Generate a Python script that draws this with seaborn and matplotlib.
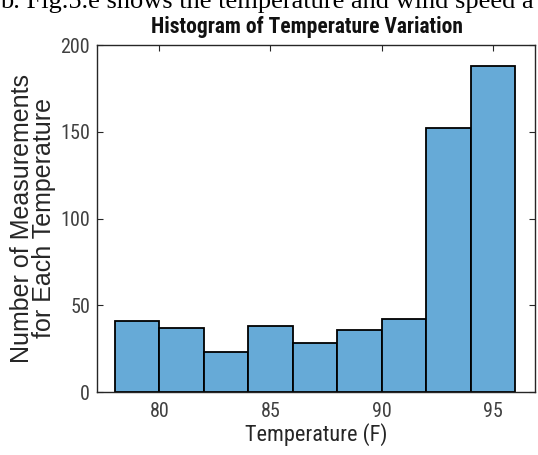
import os
import matplotlib
matplotlib.use("Agg")
import matplotlib.pyplot as plt
from matplotlib import font_manager as fm
from matplotlib.font_manager import FontProperties
import seaborn as sns
import numpy as np
import pandas as pd

# Data
bin_centers = [79, 81, 83, 85, 87, 89, 91, 93, 95]
counts = [41, 37, 23, 38, 28, 36, 42, 152, 188]
bin_edges = [78, 80, 82, 84, 86, 88, 90, 92, 94, 96]
xticks = [80, 85, 90, 95]
yticks = [0, 50, 100, 150, 200]
title = "Histogram of Temperature Variation"
xlabel = "Temperature (F)"
ylabel = "Number of Measurements\nfor Each Temperature"
caption = "b. Fig.5.e shows the temperature and wind speed a"

sns.set_theme(style="white")
plt.rcParams['font.family'] = ['Liberation Sans', 'DejaVu Sans']

names = {f.name for f in fm.fontManager.ttflist}
files = [f.fname for f in fm.fontManager.ttflist]


def find_font(cand_names, cand_files, weight="normal"):
    for n in cand_names:
        if n in names:
            return FontProperties(family=n, weight=weight), True
    for fn in cand_files:
        for f in files:
            if os.path.basename(f).lower() == fn.lower():
                return FontProperties(fname=f), True
    return FontProperties(family=['Liberation Sans', 'DejaVu Sans'], weight=weight), False


fp_reg, cond_reg = find_font(['Liberation Sans Narrow', 'Roboto Condensed', 'Open Sans Condensed'],
                             ['LiberationSansNarrow-Regular.ttf', 'DejaVuSansCondensed.ttf'])
fp_bold, cond_bold = find_font(['Liberation Sans Narrow', 'Roboto Condensed', 'Open Sans Condensed'],
                               ['LiberationSansNarrow-Bold.ttf', 'DejaVuSansCondensed-Bold.ttf'],
                               weight="bold")


def fp_sized(fp, size):
    p = fp.copy()
    p.set_size(size)
    return p


tick_size = 14.5 if cond_reg else 12.5
xlab_size = 16 if cond_reg else 13.5
title_size = 15.5 if cond_bold else 13

W, H = 538, 455
fig = plt.figure(figsize=(W / 100, H / 100), dpi=100)
ax = fig.add_axes([97 / W, (H - 392) / H, (535 - 97) / W, (392 - 45) / H])

df = pd.DataFrame({"temp": bin_centers, "count": counts})
sns.histplot(data=df, x="temp", weights="count", bins=bin_edges, ax=ax,
             color="#66AAD7", alpha=1.0, edgecolor="black", linewidth=1.3)

ax.set_xlim(77.2, 96.9)
ax.set_ylim(0, 200)
ax.set_xticks(xticks)
ax.set_yticks(yticks)
ax.set_xticklabels([str(v) for v in xticks])
ax.set_yticklabels([str(v) for v in yticks])

tick_color = "#404040"
ax.tick_params(axis="both", which="both", direction="in", length=4, width=0.8,
               colors="#262626", labelcolor=tick_color,
               top=True, right=True, bottom=True, left=True)
ax.tick_params(axis="x", pad=7)
ax.tick_params(axis="y", pad=5)
for lbl in ax.get_xticklabels() + ax.get_yticklabels():
    lbl.set_fontproperties(fp_sized(fp_reg, tick_size))
    lbl.set_color(tick_color)
for s in ax.spines.values():
    s.set_visible(True)
    s.set_color("#262626")
    s.set_linewidth(1.0)

ax.set_xlabel(xlabel, fontproperties=fp_sized(fp_reg, xlab_size), color="#262626", labelpad=2)
ax.set_ylabel(ylabel, fontsize=18, color="#262626", labelpad=3,
              family=['Liberation Sans', 'DejaVu Sans'], linespacing=0.88)
ax.set_title(title, fontproperties=fp_sized(fp_bold, title_size), color="#111111",
             x=0.48, pad=9)

fig.text(0.0, 1 - 8 / H, caption, fontsize=19, va="baseline", ha="left",
         family=['Liberation Serif', 'DejaVu Serif'], color="black")

fig.savefig("out.png", dpi=100)
